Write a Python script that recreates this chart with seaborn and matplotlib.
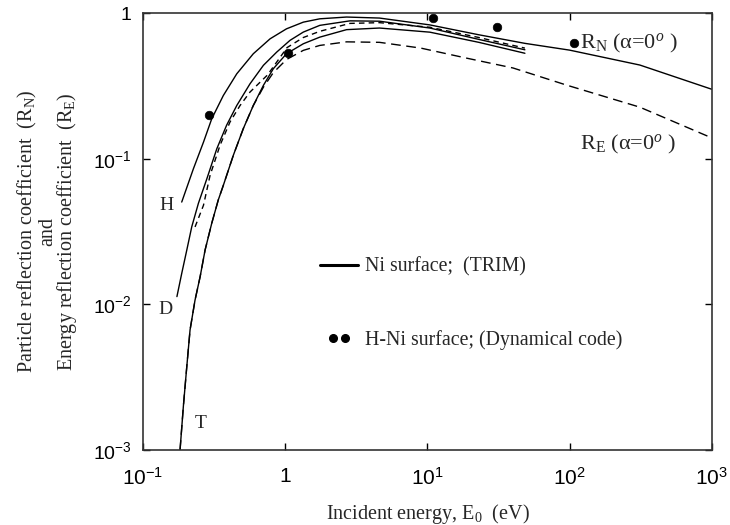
import numpy as np
import pandas as pd
import matplotlib
matplotlib.use("Agg")
import matplotlib.pyplot as plt
from matplotlib.lines import Line2D
from matplotlib.legend_handler import HandlerLine2D
from matplotlib.ticker import FixedLocator, FixedFormatter, NullLocator
import seaborn as sns

# --- data (energy in eV, reflection coefficient) ---
# H, TRIM (continues as R_N for alpha=0 up to 1 keV)
h_energy = [0.187, 0.226, 0.266, 0.304, 0.367, 0.456, 0.596, 0.782, 1.02, 1.34, 1.75,
            2.7, 4.6, 10.4, 23, 48.5, 100, 312, 1000]
h_coef = [0.0504, 0.0854, 0.130, 0.188, 0.272, 0.383, 0.526, 0.666, 0.780, 0.867, 0.914,
          0.94, 0.925, 0.83, 0.71, 0.62, 0.557, 0.44, 0.30]

# D, TRIM
d_energy = [0.173, 0.187, 0.203, 0.220, 0.245, 0.281, 0.330, 0.387, 0.456, 0.565, 0.702,
            0.871, 1.08, 1.34, 1.75, 2.85, 4.6, 10.4, 23, 48.5]
d_coef = [0.0113, 0.0163, 0.0236, 0.0341, 0.0494, 0.0729, 0.117, 0.170, 0.232, 0.327, 0.438,
          0.540, 0.650, 0.741, 0.824, 0.885, 0.88, 0.79, 0.66, 0.56]

# T, TRIM
t_energy = [0.182, 0.192, 0.203, 0.214, 0.232, 0.252, 0.273, 0.304, 0.338, 0.367, 0.432,
            0.507, 0.596, 0.702, 0.824, 1.02, 1.34, 1.75, 2.7, 4.6, 10.4, 23, 48.5]
t_coef = [0.001, 0.00199, 0.00374, 0.00667, 0.0107, 0.0155, 0.0236, 0.0360, 0.0521, 0.0657, 0.106,
          0.161, 0.232, 0.319, 0.415, 0.526, 0.616, 0.684, 0.77, 0.79, 0.74, 0.63, 0.53]

# short dashed curve between D and T
dash_energy = [0.232, 0.266, 0.296, 0.348, 0.409, 0.481, 0.565, 0.75, 1.03, 1.34, 1.75,
               2.85, 4.6, 10.4, 23, 48.5]
dash_coef = [0.034, 0.0479, 0.0769, 0.124, 0.179, 0.232, 0.287, 0.376, 0.58, 0.68, 0.75,
             0.85, 0.86, 0.80, 0.68, 0.575]

# R_E for alpha=0
re_energy = [0.182, 0.192, 0.203, 0.214, 0.232, 0.252, 0.273, 0.304, 0.338, 0.367, 0.432,
             0.507, 0.596, 0.702, 0.824, 1.02, 1.34, 1.75, 2.7, 4.6, 9.0, 19, 40, 95.6, 312, 1000]
re_coef = [0.001, 0.00199, 0.00374, 0.00667, 0.0107, 0.0155, 0.0236, 0.0360, 0.0521, 0.0657, 0.106,
           0.161, 0.232, 0.31, 0.39, 0.48, 0.555, 0.60, 0.635, 0.63, 0.575, 0.49, 0.42, 0.32, 0.226, 0.139]

# H-Ni, dynamical code
dyn_energy = [0.29, 1.05, 11, 31, 107]
dyn_coef = [0.20, 0.53, 0.92, 0.80, 0.62]

x_ticks = [0.1, 1, 10, 100, 1000]
x_labels = [r"$\mathsf{10^{-1}}$", r"$\mathsf{1}$", r"$\mathsf{10^{1}}$", r"$\mathsf{10^{2}}$", r"$\mathsf{10^{3}}$"]
y_ticks = [0.001, 0.01, 0.1, 1]
y_labels = [r"$\mathsf{10^{-3}}$", r"$\mathsf{10^{-2}}$", r"$\mathsf{10^{-1}}$", r"$\mathsf{1}$"]

sns.set_theme(style="ticks")
plt.rcParams["font.family"] = ["Liberation Serif", "DejaVu Serif"]
plt.rcParams["mathtext.fontset"] = "custom"
plt.rcParams["mathtext.rm"] = "Liberation Serif"
plt.rcParams["mathtext.it"] = "Liberation Serif:italic"
plt.rcParams["mathtext.sf"] = "Liberation Sans"

fig = plt.figure(figsize=(7.3, 5.25), dpi=100)
ax = fig.add_axes([0.196, 0.143, 0.779, 0.832])

lw = 1.0
sns.lineplot(x=h_energy, y=h_coef, ax=ax, color="black", lw=lw, sort=False)
sns.lineplot(x=d_energy, y=d_coef, ax=ax, color="black", lw=lw, sort=False)
sns.lineplot(x=t_energy, y=t_coef, ax=ax, color="black", lw=lw, sort=False)
sns.lineplot(x=dash_energy, y=dash_coef, ax=ax, color="black", lw=lw, sort=False)
ax.lines[-1].set_dashes((4, 3))
sns.lineplot(x=re_energy, y=re_coef, ax=ax, color="black", lw=lw, sort=False)
ax.lines[-1].set_dashes((7, 4))
sns.scatterplot(x=dyn_energy, y=dyn_coef, ax=ax, color="black", s=38, edgecolor="black", zorder=5)

ax.set_xscale("log")
ax.set_yscale("log")
ax.set_xlim(0.1, 1000)
ax.set_ylim(0.001, 1)
ax.xaxis.set_major_locator(FixedLocator(x_ticks))
ax.xaxis.set_major_formatter(FixedFormatter(x_labels))
ax.yaxis.set_major_locator(FixedLocator(y_ticks))
ax.yaxis.set_major_formatter(FixedFormatter(y_labels))
ax.xaxis.set_minor_locator(NullLocator())
ax.yaxis.set_minor_locator(NullLocator())
ax.tick_params(direction="in", length=5, width=1, top=True, right=True, colors="black")
ax.tick_params(axis="x", labelsize=15, pad=13)
ax.tick_params(axis="y", labelsize=14, pad=8)
for s in ax.spines.values():
    s.set_visible(True)
    s.set_linewidth(1.2)
    s.set_color("#333333")

ax.set_xlabel(r"Incident energy, E$_0$  (eV)", fontsize=14.5, labelpad=9)
ax.set_ylabel("Particle reflection coefficient  (R$_\\mathrm{N}$)\nand\nEnergy reflection coefficient  (R$_\\mathrm{E}$)",
              fontsize=14.5, linespacing=0.9, labelpad=10)

# curve labels
ax.text(0.145, 0.048, "H", fontsize=14, ha="center", va="center")
ax.text(0.143, 0.0092, "D", fontsize=14, ha="center", va="center")
ax.text(0.256, 0.00151, "T", fontsize=14, ha="center", va="center")
ax.text(118, 0.62, "R$_\\mathrm{N}$ (α=0$^o$ )", fontsize=16, va="center")
ax.text(118, 0.126, "R$_\\mathrm{E}$ (α=0$^o$ )", fontsize=16, va="center")

handles = [Line2D([], [], color="black", lw=2.2),
           Line2D([], [], color="black", ls="none", marker="o", ms=5.5)]
ax.legend(handles, ["Ni surface;  (TRIM)", "H-Ni surface; (Dynamical code)"],
          loc="upper left", bbox_to_anchor=(0.28, 0.482), frameon=False, fontsize=14.3,
          labelspacing=2.7, numpoints=2, handlelength=1.9, handletextpad=0.35,
          handler_map={handles[0]: HandlerLine2D(marker_pad=0),
                       handles[1]: HandlerLine2D(marker_pad=0.65)})

fig.savefig("out.png", dpi=100)
